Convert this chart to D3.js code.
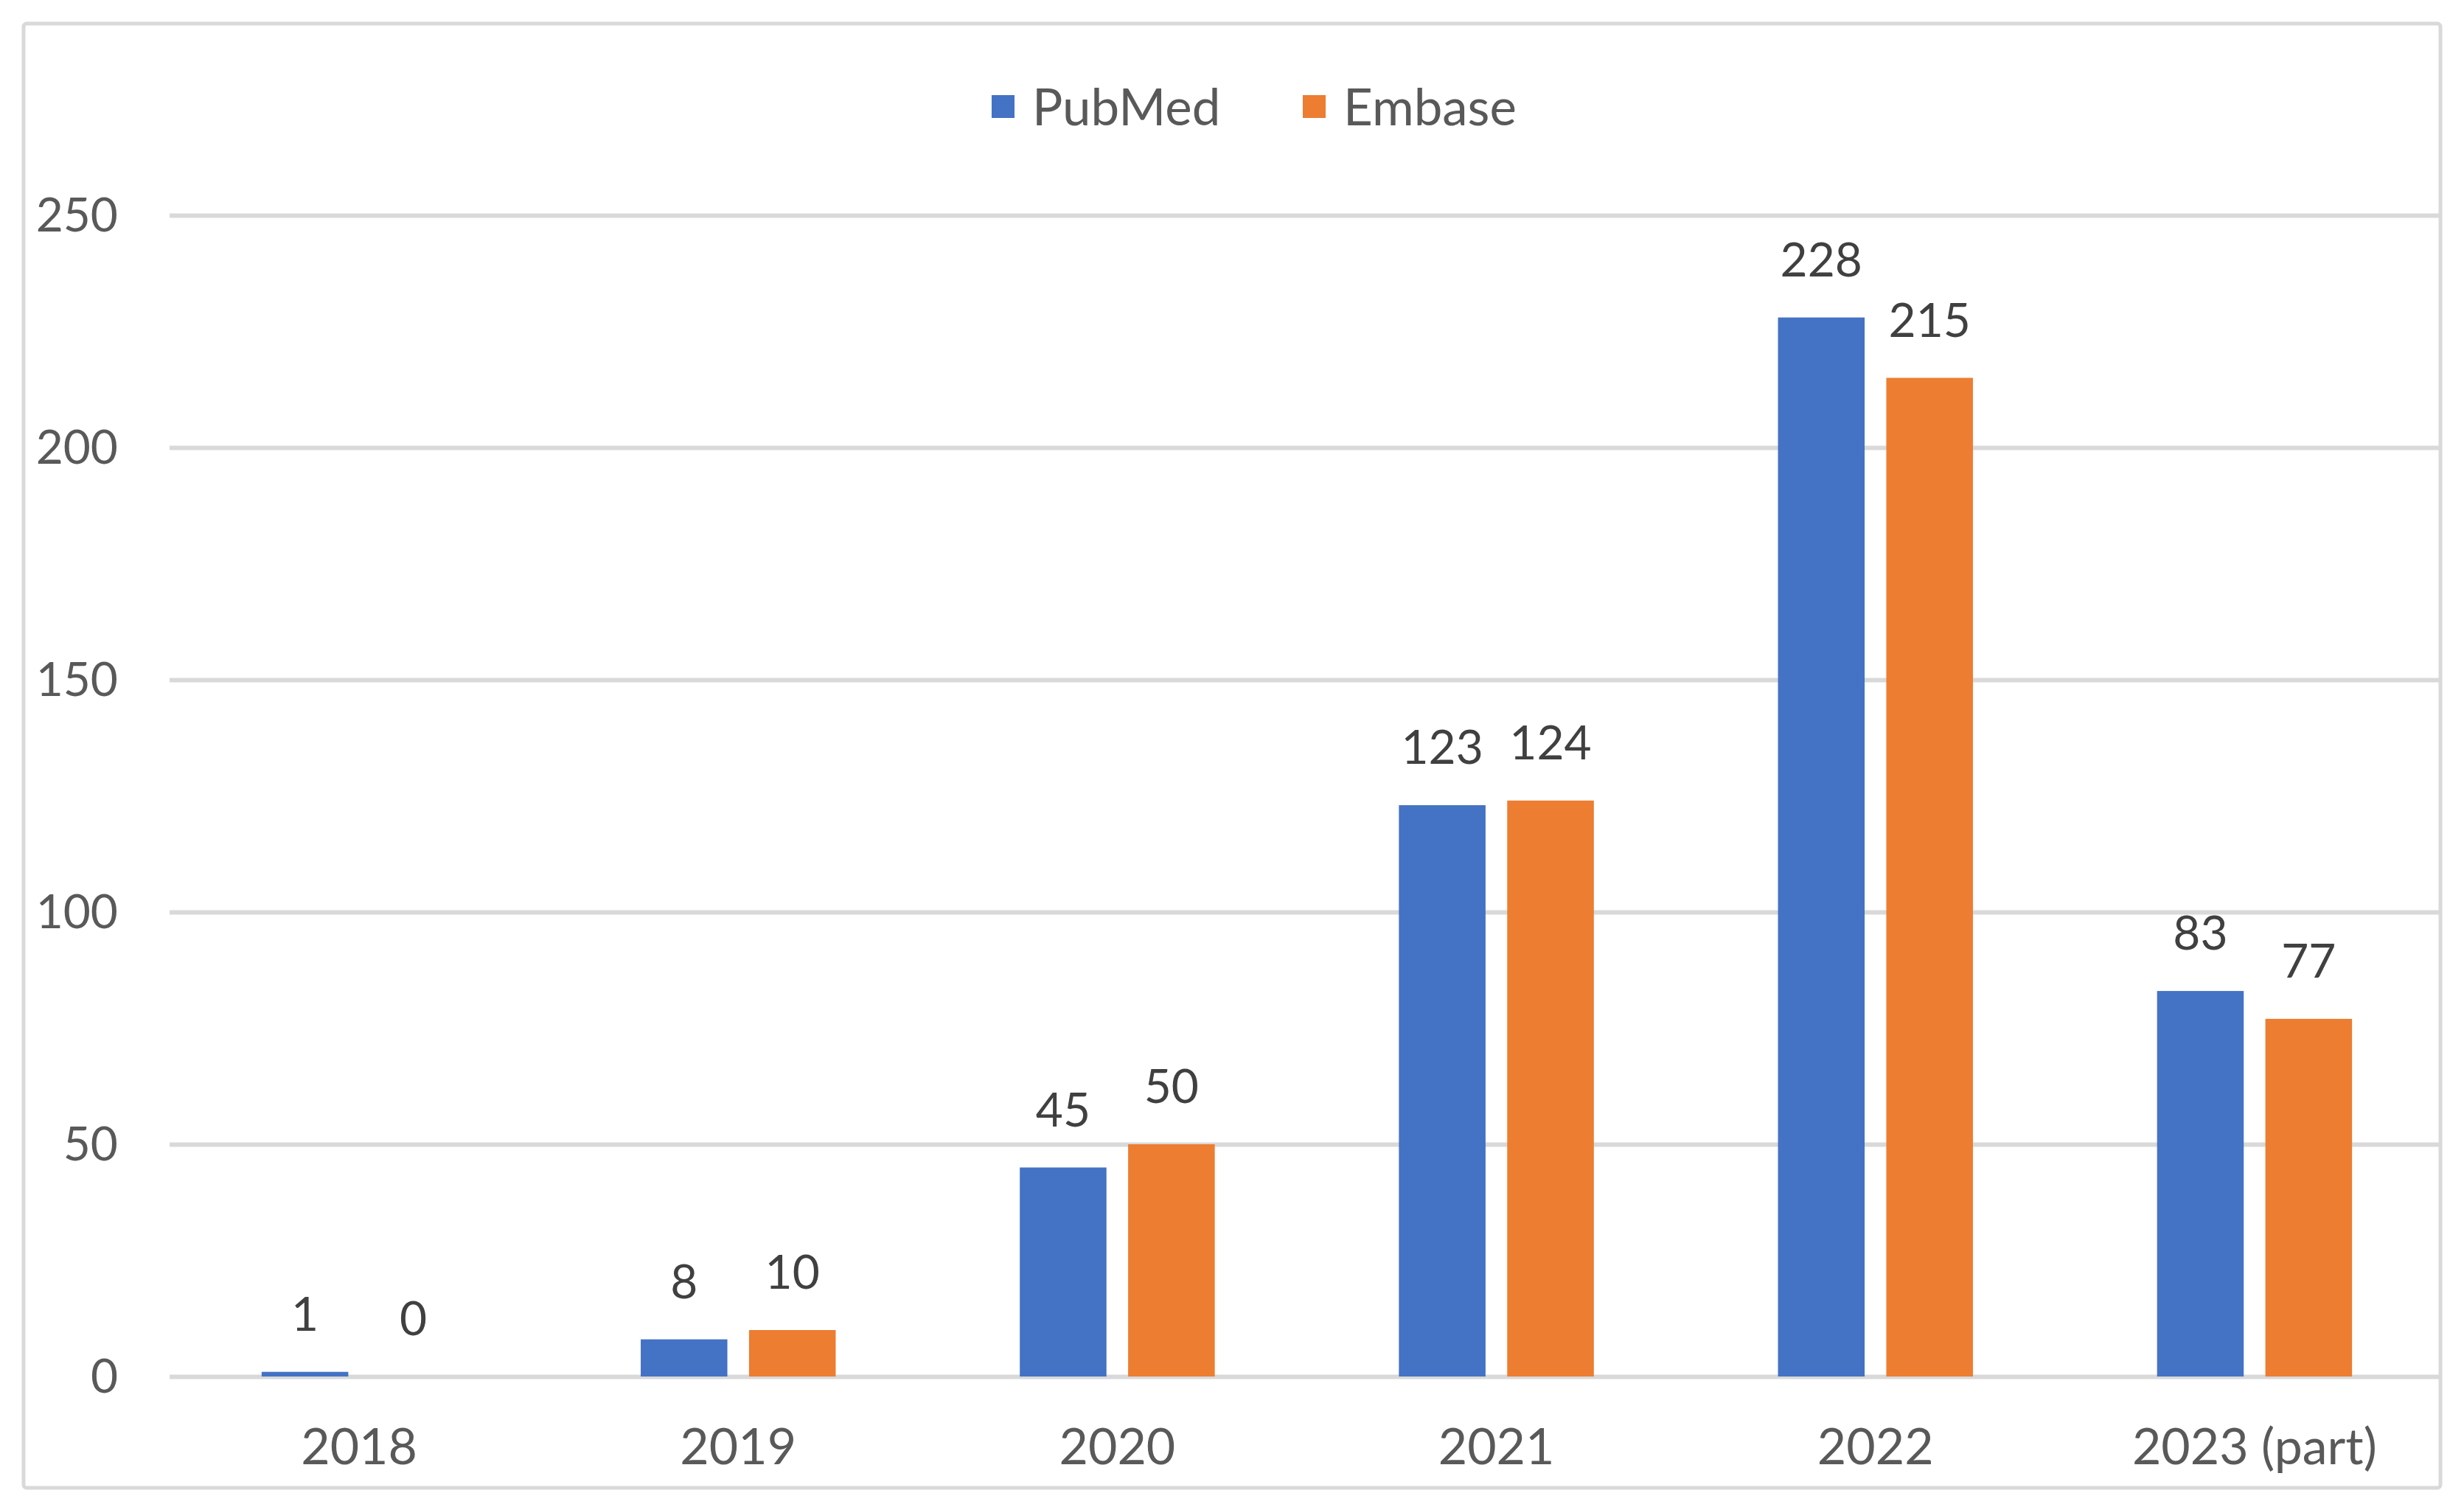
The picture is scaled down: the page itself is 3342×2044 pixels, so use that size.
<!DOCTYPE html>
<html>
<head>
<meta charset="utf-8">
<script src="https://cdn.jsdelivr.net/npm/d3@7"></script>
<style>
    body { margin: 0; background: #ffffff; }
    #chart-1 { width: 3342px; height: 2044px; }
    text { font-family: Lato, "Open Sans", sans-serif; }
</style>
</head>
<body>
<div id="chart-1"></div>
<script>
// DATA
const years = ["2018", "2019", "2020", "2021", "2022", "2023 (part)"];
const seriesNames = ["PubMed", "Embase"];
const pubmed = [1, 8, 45, 123, 228, 83];
const embase = [0, 10, 50, 124, 215, 77];
const yTicks = [0, 50, 100, 150, 200, 250];
const colors = ["#4472c4", "#ed7d31"];

const rows = years.map(function (y, i) {
    return { year: y, values: [pubmed[i], embase[i]] };
});

/*
DEFINE DIMENSIONS OF SVG + CREATE SVG CANVAS
*/
const width = 3342;
const height = 2044;
const margin = { top: 292, left: 230, right: 27, bottom: 177 };

const svg = d3.select("#chart-1")
    .append("svg")
    .attr("width", width)
    .attr("height", height);

// chart border
svg.append("rect")
    .attr("x", 32)
    .attr("y", 32)
    .attr("width", 3278)
    .attr("height", 1986)
    .attr("rx", 4)
    .attr("fill", "#ffffff")
    .attr("stroke", "#d9d9d9")
    .attr("stroke-width", 5);

/*
CREATE SCALES
*/
const xScale = d3.scaleBand()
    .domain(years)
    .range([margin.left, width - margin.right]);

const xSub = d3.scaleBand()
    .domain(seriesNames)
    .range([0, xScale.bandwidth()])
    .paddingInner(0.2)
    .paddingOuter(0.85);

const yScale = d3.scaleLinear()
    .domain([0, 250])
    .range([height - margin.bottom, margin.top]);

/*
DRAW GRID LINES
*/
const yAxisGrid = d3.axisLeft(yScale).tickValues(yTicks).tickSize(-(3308 - margin.left)).tickFormat('');

svg.append("g")
    .attr("class", "y-axis-grid")
    .attr("transform", `translate(${margin.left},0)`)
    .call(yAxisGrid)
    .call(g => g.select(".domain").remove())
    .selectAll("line")
    .attr("stroke", "#d9d9d9")
    .attr("stroke-width", 6);

// y tick labels
svg.append("g")
    .selectAll("text")
    .data(yTicks)
    .enter()
    .append("text")
    .attr("x", 160)
    .attr("y", d => yScale(d))
    .attr("dy", "0.35em")
    .attr("text-anchor", "end")
    .attr("font-size", 64)
    .attr("fill", "#595959")
    .text(d => d);

// x tick labels
svg.append("g")
    .selectAll("text")
    .data(years)
    .enter()
    .append("text")
    .attr("x", d => xScale(d) + xScale.bandwidth() / 2)
    .attr("y", 1986)
    .attr("text-anchor", "middle")
    .attr("font-size", 68)
    .attr("fill", "#595959")
    .text(d => d);

/*
DRAW BARS
*/
const groups = svg.append("g")
    .selectAll("g")
    .data(rows)
    .enter()
    .append("g")
    .attr("transform", d => `translate(${xScale(d.year)},0)`);

groups.selectAll("rect")
    .data(d => d.values.map((v, i) => ({ name: seriesNames[i], value: v, color: colors[i] })))
    .enter()
    .append("rect")
    .attr("x", d => xSub(d.name))
    .attr("y", d => yScale(d.value))
    .attr("width", xSub.bandwidth())
    .attr("height", d => yScale(0) - yScale(d.value))
    .attr("fill", d => d.color);

// data labels
groups.selectAll("text")
    .data(d => d.values.map((v, i) => ({ name: seriesNames[i], value: v })))
    .enter()
    .append("text")
    .attr("x", d => xSub(d.name) + xSub.bandwidth() / 2)
    .attr("y", d => yScale(d.value) - 56)
    .attr("text-anchor", "middle")
    .attr("font-size", 64)
    .attr("fill", "#404040")
    .text(d => d.value);

/*
LEGEND
*/
const legendX = [1345, 1767];
const legend = svg.append("g")
    .selectAll("g")
    .data(seriesNames)
    .enter()
    .append("g")
    .attr("transform", (d, i) => `translate(${legendX[i]},129)`);

legend.append("rect")
    .attr("width", 31)
    .attr("height", 31)
    .attr("fill", (d, i) => colors[i]);

legend.append("text")
    .attr("x", 55)
    .attr("y", 41)
    .attr("font-size", 69)
    .attr("fill", "#595959")
    .text(d => d);
</script>
</body>
</html>
